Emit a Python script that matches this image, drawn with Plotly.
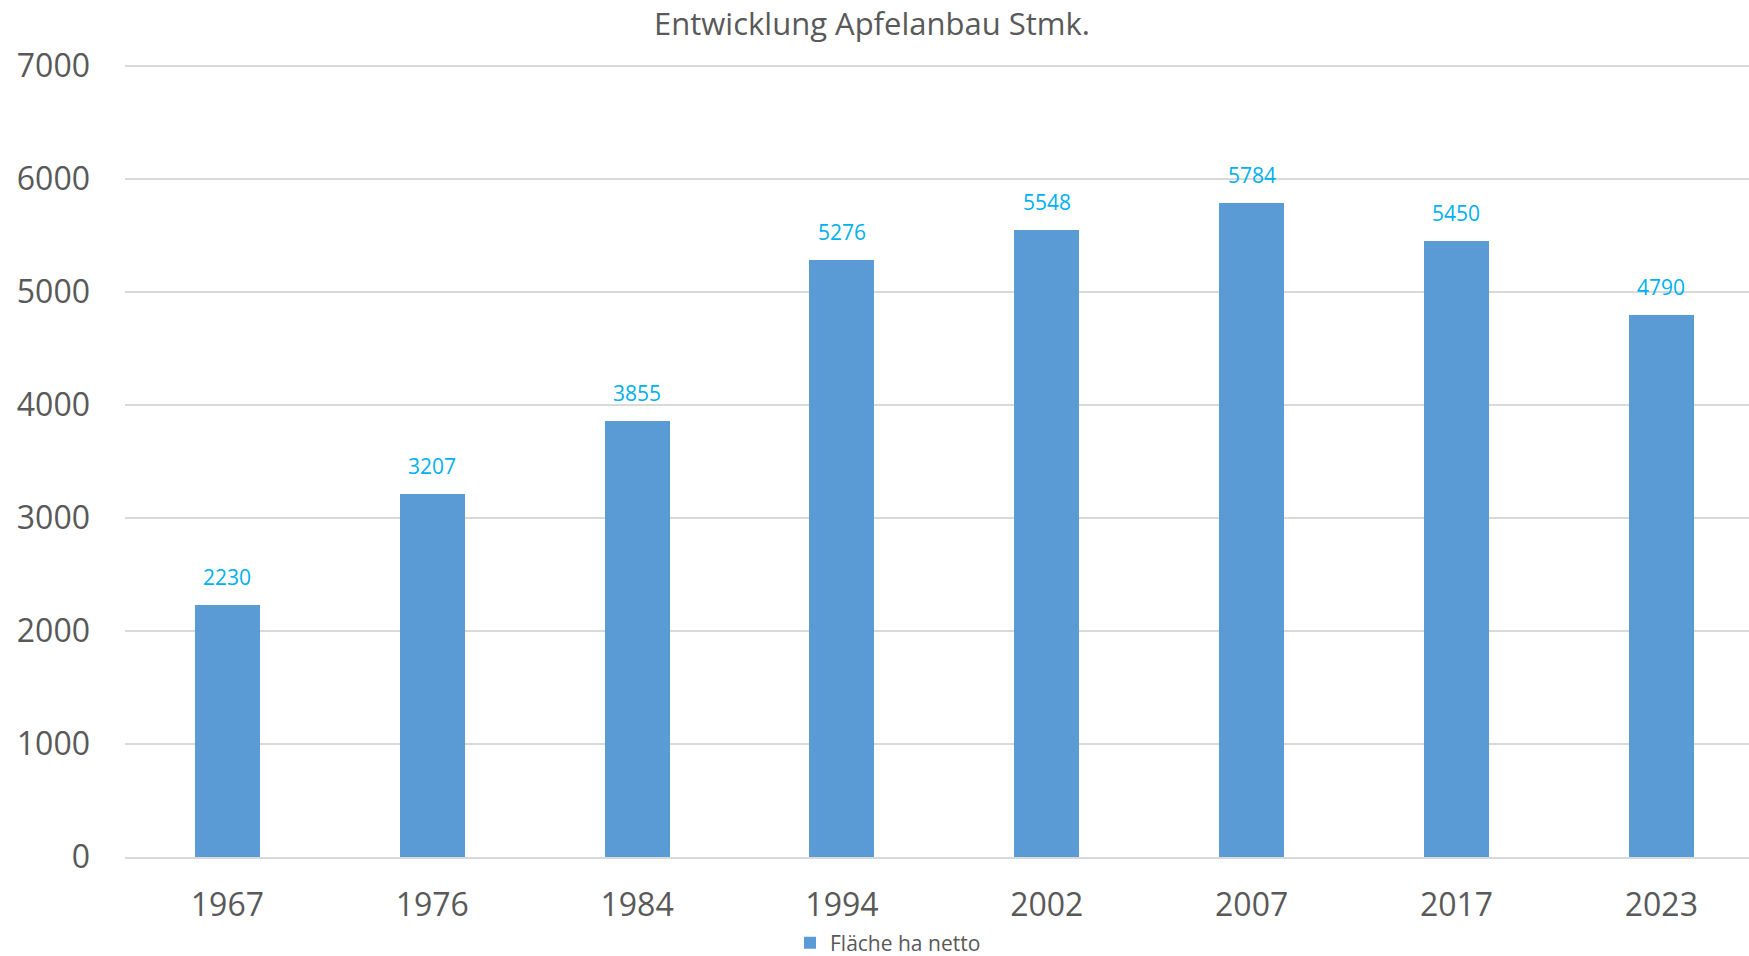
import plotly.graph_objects as go

years = ["1967", "1976", "1984", "1994", "2002", "2007", "2017", "2023"]
flaeche = [2230, 3207, 3855, 5276, 5548, 5784, 5450, 4790]
series_name = "Fläche ha netto"
title_text = "Entwicklung Apfelanbau Stmk."

FONT = "Open Sans"
TXT = "#595959"

fig = go.Figure()
fig.add_trace(go.Bar(
    x=years, y=flaeche, name=series_name,
    marker=dict(color="#5B9BD5", line=dict(width=0)),
    width=0.317, showlegend=True,
))

for i, v in enumerate(flaeche):
    fig.add_annotation(x=i, y=v, xref="x", yref="y", text=str(v), showarrow=False,
                       yanchor="bottom", yshift=12,
                       font=dict(family=FONT, size=21, color="#00B0F0"))

fig.update_layout(
    width=1749, height=956,
    margin=dict(l=125, r=0, t=62, b=99, autoexpand=False),
    paper_bgcolor="white", plot_bgcolor="white",
    title=dict(text=title_text, x=872/1749, xanchor="center", xref="container",
               y=1-24/956, yanchor="middle", yref="container",
               font=dict(family=FONT, size=31, color=TXT)),
    showlegend=True,
    legend=dict(orientation="h", x=(888-125)/1624, xanchor="center",
                y=-(943-857)/795, yanchor="middle",
                font=dict(family=FONT, size=21, color=TXT),
                itemwidth=30, bgcolor="rgba(0,0,0,0)"),
    bargap=0,
)
fig.update_xaxes(type="category", range=[-0.5, 7.428], showgrid=False,
                 showline=True, linecolor="#D9D9D9", linewidth=2,
                 ticks="", ticklabelstandoff=19, automargin=False,
                 tickfont=dict(family=FONT, size=32, color=TXT))
fig.update_yaxes(range=[0, 7000 * 795 / 791.5], dtick=1000, showgrid=True, gridcolor="#D9D9D9",
                 gridwidth=1.5, zeroline=False, showline=False, ticks="",
                 ticklabelstandoff=34, automargin=False,
                 tickfont=dict(family=FONT, size=32, color=TXT))

fig.write_html("out.html", config={"displayModeBar": False},
               post_script="document.body.style.margin='0';document.body.style.overflow='hidden';")
